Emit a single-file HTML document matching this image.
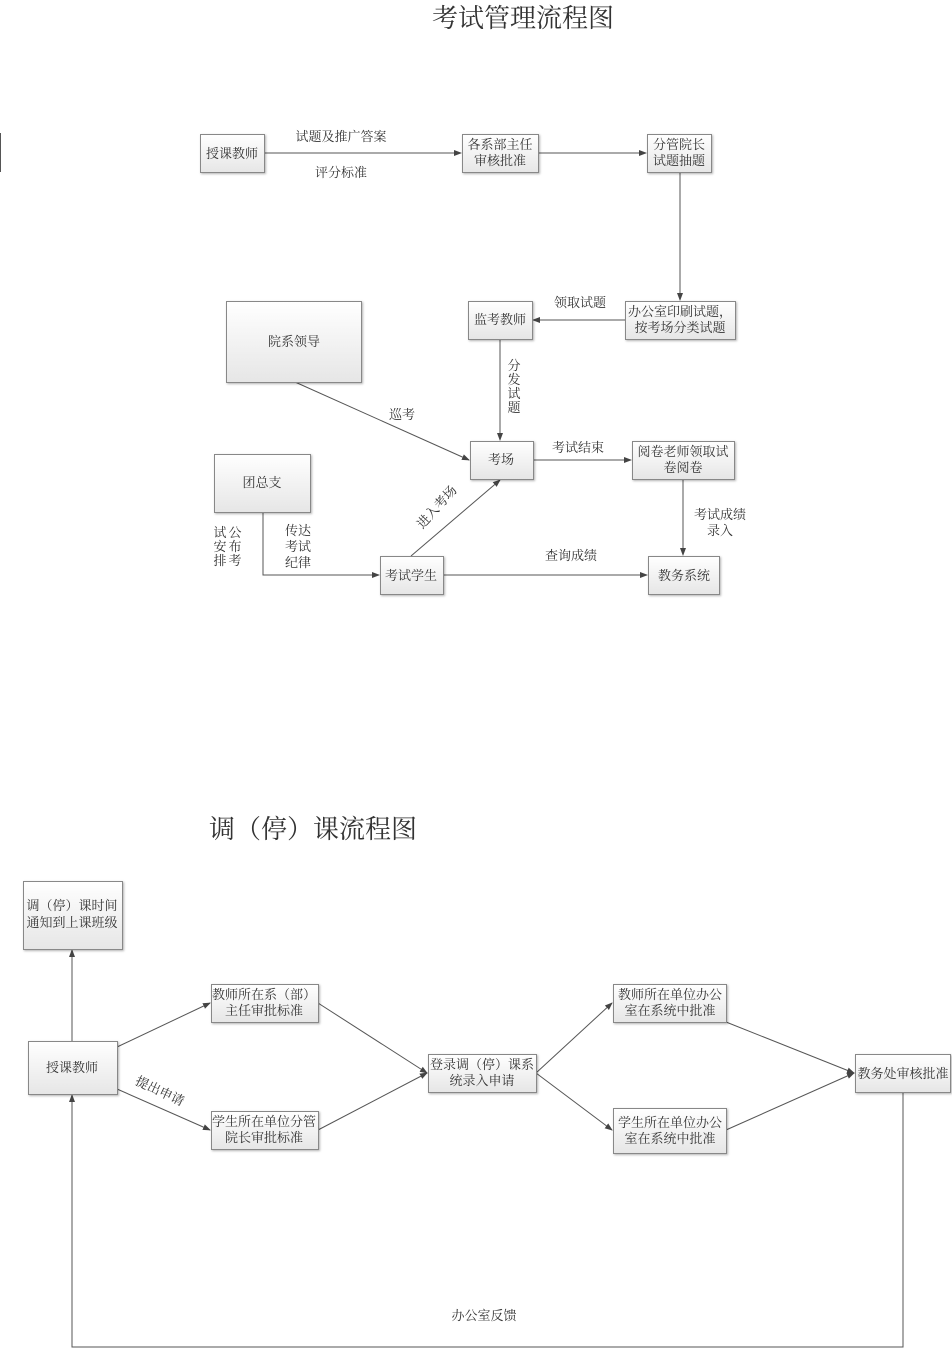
<!DOCTYPE html>
<html><head><meta charset="utf-8"><style>
body{margin:0;background:#fff;}
svg text{font-family:"Liberation Serif","Noto Serif CJK SC",serif;fill:#333;font-size:13px;}
</style></head><body>
<svg width="952" height="1349" viewBox="0 0 952 1349" xmlns="http://www.w3.org/2000/svg">
<defs>
<linearGradient id="g" x1="0" y1="0" x2="0" y2="1"><stop offset="0" stop-color="#ffffff"/><stop offset="1" stop-color="#e6e6e6"/></linearGradient>
<marker id="a" markerWidth="8" markerHeight="8" refX="7" refY="4" orient="auto" markerUnits="userSpaceOnUse"><path d="M0,1 L8,4 L0,7 z" fill="#444"/></marker>
</defs>
<g stroke="#555" stroke-width="1" fill="none" marker-end="url(#a)">
<line x1="264" y1="153" x2="461" y2="153"/>
<line x1="538" y1="153" x2="646" y2="153"/>
<line x1="680" y1="172" x2="680" y2="300"/>
<line x1="625" y1="320" x2="533" y2="320"/>
<line x1="500" y1="339" x2="500" y2="440"/>
<line x1="295" y1="382" x2="469" y2="460"/>
<line x1="533" y1="460" x2="631" y2="460"/>
<line x1="683" y1="479" x2="683" y2="555"/>
<polyline points="263,512 263,575 379,575"/>
<line x1="411" y1="556" x2="500" y2="480"/>
<line x1="443" y1="575" x2="647" y2="575"/>
<line x1="72" y1="1041" x2="72" y2="950"/>
<line x1="117" y1="1047" x2="210" y2="1003"/>
<line x1="117" y1="1089" x2="210" y2="1130"/>
<line x1="318" y1="1003" x2="427" y2="1073"/>
<line x1="318" y1="1130" x2="427" y2="1073"/>
<line x1="536" y1="1073" x2="612" y2="1003"/>
<line x1="536" y1="1073" x2="612" y2="1130"/>
<line x1="726" y1="1022" x2="854" y2="1073"/>
<line x1="726" y1="1130" x2="854" y2="1073"/>
<polyline points="903,1092 903,1347 72,1347 72,1095"/>
</g>
<line x1="0.5" y1="133" x2="0.5" y2="172" stroke="#555"/>
<g stroke="#888" fill="url(#g)" style="filter:drop-shadow(1px 1px 1px rgba(0,0,0,.3))">
<rect x="200.5" y="134.5" width="64" height="38"/>
<rect x="462.5" y="134.5" width="76" height="38"/>
<rect x="647.5" y="134.5" width="64" height="38"/>
<rect x="625.5" y="301.5" width="110" height="38"/>
<rect x="468.5" y="301.5" width="64" height="38"/>
<rect x="226.5" y="301.5" width="135" height="81"/>
<rect x="470.5" y="441.5" width="63" height="38"/>
<rect x="632.5" y="441.5" width="102" height="38"/>
<rect x="214.5" y="454.5" width="96" height="58"/>
<rect x="380.5" y="556.5" width="63" height="38"/>
<rect x="648.5" y="556.5" width="71" height="38"/>
<rect x="23.5" y="881.5" width="99" height="68"/>
<rect x="28.5" y="1041.5" width="89" height="53"/>
<rect x="211.5" y="984.5" width="107" height="38"/>
<rect x="211.5" y="1111.5" width="107" height="38"/>
<rect x="428.5" y="1054.5" width="108" height="38"/>
<rect x="613.5" y="984.5" width="113" height="38"/>
<rect x="613.5" y="1108.5" width="113" height="45"/>
<rect x="855.5" y="1054.5" width="95" height="38"/>
</g>
<g text-anchor="middle">
<text x="523" y="27" style="font-size:26px">考试管理流程图</text>
<text x="232" y="158">授课教师</text>
<text x="500" y="149">各系部主任</text><text x="500" y="165">审核批准</text>
<text x="679" y="149">分管院长</text><text x="679" y="165">试题抽题</text>
<text x="680" y="316">办公室印刷试题，</text><text x="680" y="332">按考场分类试题</text>
<text x="500" y="324">监考教师</text>
<text x="294" y="346">院系领导</text>
<text x="501" y="464">考场</text>
<text x="683" y="456">阅卷老师领取试</text><text x="683" y="472">卷阅卷</text>
<text x="262" y="487">团总支</text>
<text x="411" y="580">考试学生</text>
<text x="684" y="580">教务系统</text>
<text x="341" y="141">试题及推广答案</text>
<text x="341" y="177">评分标准</text>
<text x="580" y="307">领取试题</text>
<text x="514" y="370">分</text><text x="514" y="384">发</text><text x="514" y="398">试</text><text x="514" y="412">题</text>
<text x="402" y="419">巡考</text>
<text x="578" y="452">考试结束</text>
<text x="720" y="519">考试成绩</text><text x="720" y="535">录入</text>
<text x="571" y="560">查询成绩</text>
<text x="298" y="535">传达</text><text x="298" y="551">考试</text><text x="298" y="567">纪律</text>
<text x="235" y="537">公</text><text x="235" y="551">布</text><text x="235" y="565">考</text>
<text x="220" y="537">试</text><text x="220" y="551">安</text><text x="220" y="565">排</text>
<text x="0" y="0" transform="translate(440,510) rotate(-48)">进入考场</text>
<text x="313" y="838" style="font-size:26px">调（停）课流程图</text>
<text x="72" y="910">调（停）课时间</text><text x="72" y="927">通知到上课班级</text>
<text x="72" y="1072">授课教师</text>
<text x="264" y="999">教师所在系（部）</text><text x="264" y="1015">主任审批标准</text>
<text x="264" y="1126">学生所在单位分管</text><text x="264" y="1142">院长审批标准</text>
<text x="482" y="1069">登录调（停）课系</text><text x="482" y="1085">统录入申请</text>
<text x="670" y="999">教师所在单位办公</text><text x="670" y="1015">室在系统中批准</text>
<text x="670" y="1127">学生所在单位办公</text><text x="670" y="1143">室在系统中批准</text>
<text x="903" y="1078">教务处审核批准</text>
<text x="0" y="0" transform="translate(158,1095) rotate(25)">提出申请</text>
<text x="484" y="1320">办公室反馈</text>
</g>
</svg>
</body></html>
